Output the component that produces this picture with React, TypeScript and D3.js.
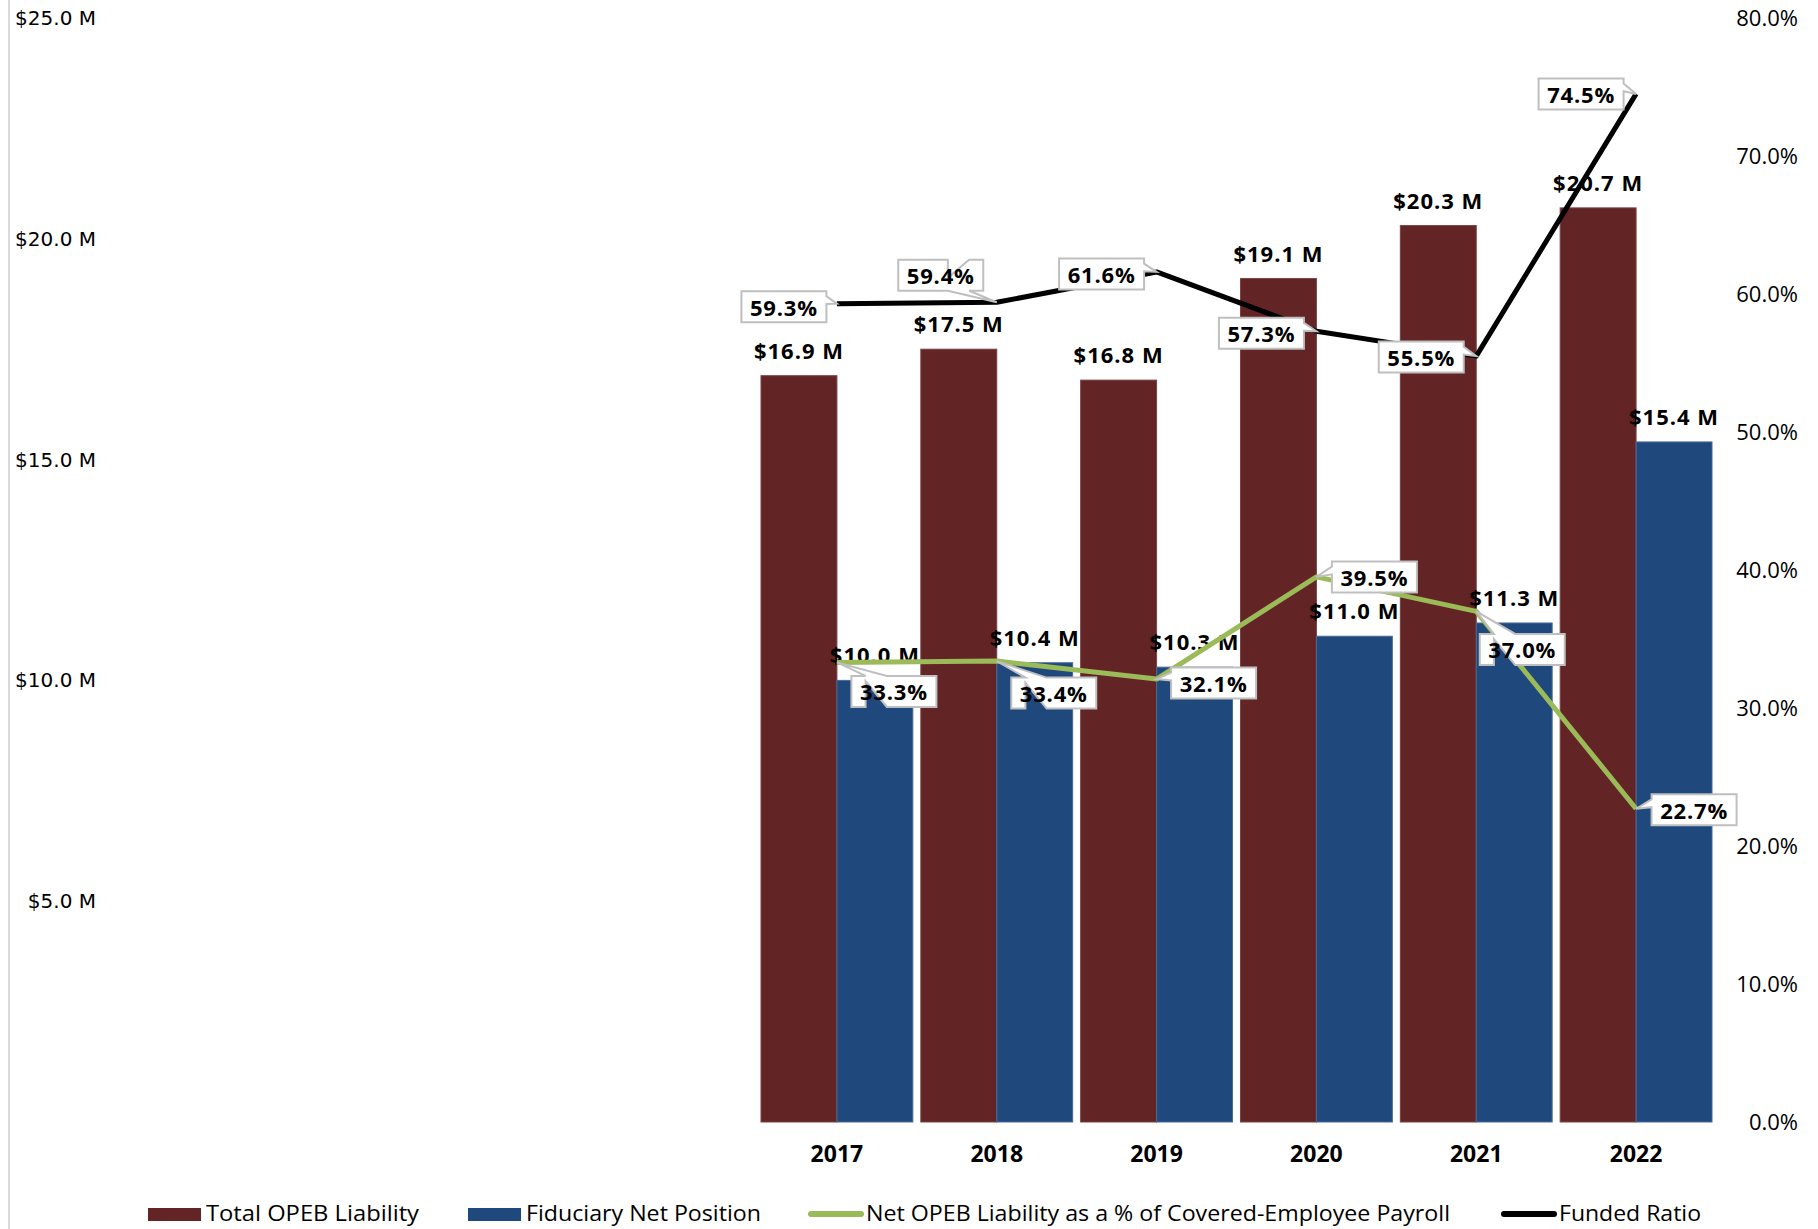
import React from "react";
import * as d3 from "d3";

const years = ["2017", "2018", "2019", "2020", "2021", "2022"];
const totalOpebLiability = [16.9, 17.5, 16.8, 19.1, 20.3, 20.7];
const fiduciaryNetPosition = [10.0, 10.4, 10.3, 11.0, 11.3, 15.4];
const netOpebPctPayroll = [33.3, 33.4, 32.1, 39.5, 37.0, 22.7];
const fundedRatio = [59.3, 59.4, 61.6, 57.3, 55.5, 74.5];
const leftTicks = [5, 10, 15, 20, 25];
const rightTicks = [0, 10, 20, 30, 40, 50, 60, 70, 80];
const legendLabels = [
  "Total OPEB Liability",
  "Fiduciary Net Position",
  "Net OPEB Liability as a % of Covered-Employee Payroll",
  "Funded Ratio",
];

// layout: callout box offsets (box centre relative to data point)
const fundedOffsets = [[-53, 3], [-56, -27], [-55, 2], [-55, 2], [-55, 1], [-55, 0]];
const netOffsets = [[57, 29], [57, 32], [57, 4], [58, 0], [46, 38], [58, 1]];
const legendX = [148, 468, 808, 1501];
const legendTextWidths = [213, 235, 584, 142];

const MAROON = "#632425";
const BLUE = "#1f497d";
const GREEN = "#9bbb59";
const FONT = "'DejaVu Sans', sans-serif";
const FONT2 = "'Open Sans', sans-serif";

function calloutPath(w: number, h: number, dx: number, dy: number) {
  const l = 0, t = 0, r = w, b = h;
  const hc = w / 2, vc = h / 2;
  const xPos = hc + dx, yPos = vc + dy;
  const dq = (dx * h) / w;
  const dz = Math.abs(dy) - Math.abs(dq);
  const xg1 = dx > 0 ? 7 : 2, xg2 = dx > 0 ? 10 : 5;
  const yg1 = dy > 0 ? 7 : 2, yg2 = dy > 0 ? 10 : 5;
  const x1 = (w * xg1) / 12, x2 = (w * xg2) / 12;
  const y1 = (h * yg1) / 12, y2 = (h * yg2) / 12;
  const t1 = dx > 0 ? l : xPos;
  const xl = dz > 0 ? l : t1;
  const t2 = dy > 0 ? x1 : xPos;
  const xt = dz > 0 ? t2 : x1;
  const t3 = dx > 0 ? xPos : r;
  const xr = dz > 0 ? r : t3;
  const t4 = dy > 0 ? xPos : x1;
  const xb = dz > 0 ? t4 : x1;
  const t5 = dx > 0 ? y1 : yPos;
  const yl = dz > 0 ? y1 : t5;
  const t6 = dy > 0 ? y1 : yPos;
  const yt = dz > 0 ? t6 : t;
  const t7 = dx > 0 ? yPos : y1;
  const yr = dz > 0 ? y1 : t7;
  const t8 = dy > 0 ? yPos : y1;
  const yb = dz > 0 ? t8 : b;
  const pts = [
    [l, t], [x1, t], [xt, yt], [x2, t], [r, t], [r, y1], [xr, yr], [r, y2],
    [r, b], [x2, b], [xb, yb], [x1, b], [l, b], [l, y2], [xl, yl], [l, y1],
  ];
  return "M" + pts.map((p) => p[0].toFixed(2) + "," + p[1].toFixed(2)).join("L") + "Z";
}

export default function App() {
  const W = 1818, H = 1229;
  const x = d3.scaleBand<string>().domain(years).range([757, 1716]).paddingInner(0.05).paddingOuter(0.025);
  const xs = d3.scaleBand<string>().domain(["total", "fid"]).range([0, x.bandwidth()]);
  const yL = d3.scaleLinear().domain([0, 25]).range([1122, 18]);
  const yR = d3.scaleLinear().domain([0, 80]).range([1122, 18]);
  const cx = (yr: string) => (x(yr) as number) + x.bandwidth() / 2;
  const line = d3.line<number>().x((_, i) => cx(years[i])).y((v) => yR(v));

  const BW = 85, BH = 31;

  const callouts = (vals: number[], offs: number[][]) =>
    vals.map((v, i) => {
      const px = cx(years[i]);
      const py = yR(v);
      const bx = px + offs[i][0];
      const by = py + offs[i][1];
      const l = bx - BW / 2, t = by - BH / 2;
      return (
        <g key={"c" + i} transform={`translate(${l},${t})`}>
          <path d={calloutPath(BW, BH, px - bx, py - by)} fill="#fff" stroke="#bfbfbf" strokeWidth={2} strokeLinejoin="miter" />
          <text x={BW / 2} y={BH / 2} textAnchor="middle" dominantBaseline="central" fontFamily={FONT2} fontWeight="bold" fontSize={22} letterSpacing={0.8} fill="#000">
            {v.toFixed(1)}%
          </text>
        </g>
      );
    });

  const series = [
    { key: "total", vals: totalOpebLiability, color: MAROON, stroke: "#7a4243" },
    { key: "fid", vals: fiduciaryNetPosition, color: BLUE, stroke: "#4a6a94" },
  ];

  return (
    <svg width={W} height={H} style={{ position: "absolute", left: 0, top: 0, background: "#fff" }}>
      <rect x={0} y={0} width={W} height={H} fill="#fff" />
      <line x1={9} x2={9} y1={0} y2={H} stroke="#d9d9d9" strokeWidth={2} />

      {/* left axis labels */}
      {leftTicks.map((t) => (
        <text key={"l" + t} x={96} y={yL(t)} textAnchor="end" dominantBaseline="central" fontFamily={FONT} fontSize={20} fill="#000">
          ${t.toFixed(1)} M
        </text>
      ))}
      {/* right axis labels */}
      {rightTicks.map((t) => (
        <text key={"r" + t} x={1798} y={yR(t) - 1} textAnchor="end" dominantBaseline="central" fontFamily={FONT2} fontSize={22} fill="#000">
          {t.toFixed(1)}%
        </text>
      ))}

      {/* bars */}
      {series.map((s) =>
        s.vals.map((v, i) => (
          <rect
            key={s.key + i}
            x={(x(years[i]) as number) + (xs(s.key) as number)}
            y={yL(v)}
            width={xs.bandwidth()}
            height={yL(0) - yL(v)}
            fill={s.color}
            stroke={s.stroke}
            strokeWidth={1}
          />
        ))
      )}

      {/* bar labels */}
      {series.map((s) =>
        s.vals.map((v, i) => (
          <text
            key={"bl" + s.key + i}
            x={(x(years[i]) as number) + (xs(s.key) as number) + xs.bandwidth() / 2}
            y={yL(v) - 26}
            textAnchor="middle"
            dominantBaseline="central"
            fontFamily={FONT2}
            fontWeight="bold"
            fontSize={22}
            letterSpacing={1}
            fill="#000"
          >
            ${v.toFixed(1)} M
          </text>
        ))
      )}

      {/* year labels */}
      {years.map((yr) => (
        <text key={"y" + yr} x={cx(yr)} y={1153} textAnchor="middle" dominantBaseline="central" fontFamily={FONT2} fontWeight="bold" fontSize={23} fill="#000">
          {yr}
        </text>
      ))}

      {/* lines */}
      <path d={line(netOpebPctPayroll) || ""} fill="none" stroke={GREEN} strokeWidth={5} strokeLinejoin="round" />
      <path d={line(fundedRatio) || ""} fill="none" stroke="#000" strokeWidth={5} strokeLinejoin="round" />

      {/* callouts */}
      {callouts(fundedRatio, fundedOffsets)}
      {callouts(netOpebPctPayroll, netOffsets)}

      {/* legend */}
      <g>
        <rect x={legendX[0]} y={1208} width={53} height={13} fill={MAROON} />
        <rect x={legendX[1]} y={1208} width={53} height={13} fill={BLUE} />
        <line x1={legendX[2] + 3} x2={legendX[2] + 53} y1={1214} y2={1214} stroke={GREEN} strokeWidth={6} strokeLinecap="round" />
        <line x1={legendX[3] + 3} x2={legendX[3] + 53} y1={1214} y2={1214} stroke="#000" strokeWidth={6} strokeLinecap="round" />
        {legendLabels.map((lab, i) => (
          <text
            key={"lg" + i}
            x={legendX[i] + 58}
            y={1212}
            dominantBaseline="central"
            fontFamily={FONT2}
            fontSize={22}
            textLength={legendTextWidths[i]}
            lengthAdjust="spacingAndGlyphs"
            fill="#000"
          >
            {lab}
          </text>
        ))}
      </g>
    </svg>
  );
}
